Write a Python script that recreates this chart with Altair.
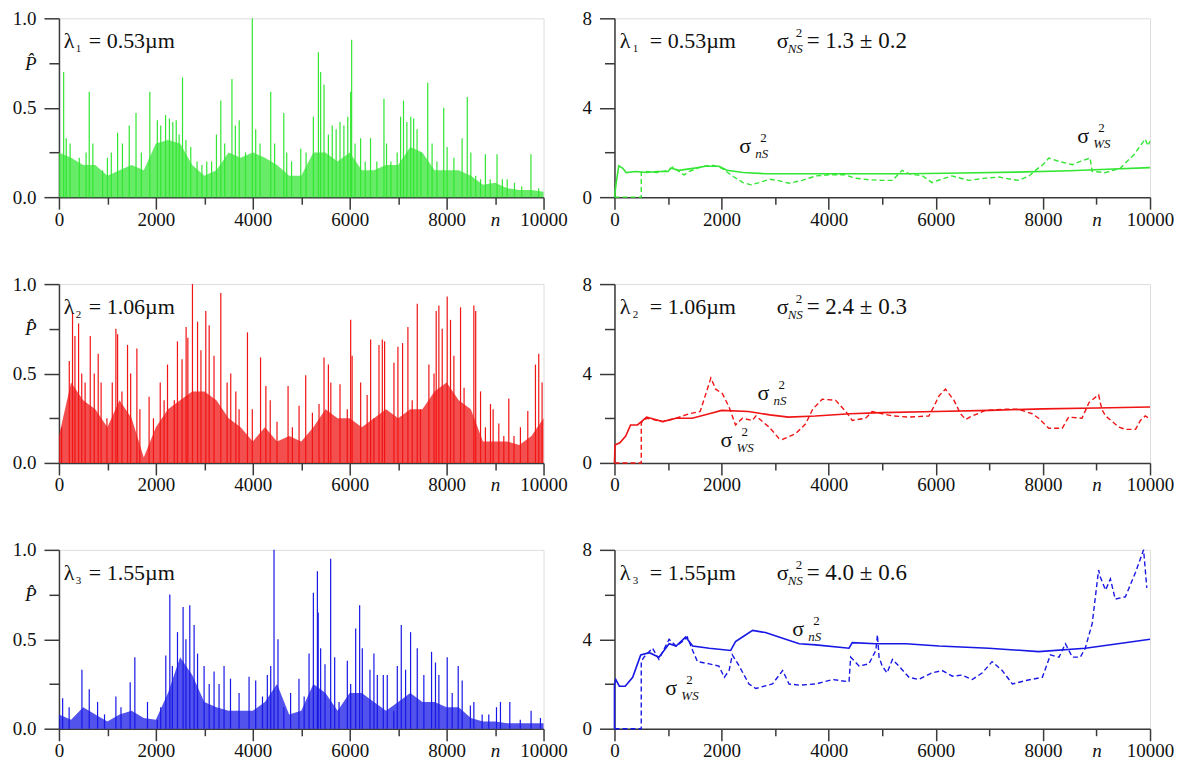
import altair as alt
import pandas as pd

FONT = "Liberation Serif"

# ---------------- data ----------------
N_ENV = list(range(0, 10001, 250))
env_green = [0.25, 0.22, 0.18, 0.18, 0.12, 0.15, 0.18, 0.15, 0.30, 0.32, 0.30, 0.18, 0.12, 0.15,
             0.25, 0.22, 0.25, 0.22, 0.18, 0.12, 0.12, 0.25, 0.25, 0.20, 0.25, 0.15, 0.15, 0.18,
             0.18, 0.28, 0.25, 0.15, 0.15, 0.15, 0.12, 0.07, 0.08, 0.05, 0.04, 0.04, 0.03]
env_red = [0.15, 0.45, 0.35, 0.30, 0.20, 0.35, 0.25, 0.03, 0.20, 0.30, 0.35, 0.40, 0.40, 0.35,
           0.25, 0.20, 0.12, 0.20, 0.12, 0.15, 0.12, 0.20, 0.30, 0.25, 0.25, 0.20, 0.25, 0.30,
           0.25, 0.30, 0.30, 0.40, 0.45, 0.35, 0.30, 0.12, 0.12, 0.12, 0.10, 0.15, 0.25]
env_blue = [0.08, 0.05, 0.12, 0.08, 0.04, 0.08, 0.10, 0.06, 0.05, 0.20, 0.40, 0.30, 0.15, 0.12,
            0.10, 0.10, 0.10, 0.15, 0.25, 0.08, 0.10, 0.25, 0.20, 0.10, 0.20, 0.20, 0.15, 0.10,
            0.15, 0.20, 0.15, 0.15, 0.12, 0.12, 0.06, 0.04, 0.04, 0.03, 0.03, 0.03, 0.03]

spikes_green = [(97, 0.70), (150, 0.33), (230, 0.30), (420, 0.22), (560, 0.25), (625, 0.59), (700, 0.30),
                (900, 0.15), (1000, 0.22), (1080, 0.25), (1210, 0.36), (1310, 0.30), (1450, 0.40),
                (1590, 0.47), (1700, 0.25), (1875, 0.59), (2030, 0.43), (2100, 0.40), (2200, 0.46),
                (2280, 0.44), (2350, 0.42), (2420, 0.43), (2480, 0.35), (2550, 0.67), (2620, 0.32),
                (2720, 0.28), (2850, 0.20), (2950, 0.18), (3050, 0.20), (3150, 0.20), (3250, 0.35),
                (3340, 0.54), (3420, 0.30), (3570, 0.66), (3640, 0.40), (3720, 0.43), (3850, 0.25),
                (3990, 1.0), (4060, 0.38), (4150, 0.30), (4370, 0.59), (4450, 0.30), (4640, 0.47),
                (4700, 0.25), (4800, 0.20), (4990, 0.27), (5100, 0.25), (5250, 0.45), (5354, 0.81),
                (5400, 0.70), (5470, 0.63), (5560, 0.35), (5640, 0.40), (5720, 0.38), (5800, 0.42),
                (5880, 0.40), (5960, 0.45), (6020, 0.59), (6040, 0.88), (6110, 0.30), (6225, 0.33),
                (6320, 0.20), (6430, 0.33), (6560, 0.20), (6707, 0.55), (6760, 0.30), (6850, 0.20),
                (6980, 0.25), (7050, 0.45), (7110, 0.54), (7180, 0.42), (7260, 0.45), (7320, 0.44),
                (7390, 0.38), (7470, 0.25), (7610, 0.64), (7700, 0.30), (7800, 0.20), (7940, 0.50),
                (8010, 0.28), (8150, 0.22), (8320, 0.33), (8426, 0.56), (8500, 0.25), (8600, 0.12),
                (8700, 0.10), (8800, 0.24), (8900, 0.10), (9040, 0.24), (9150, 0.10), (9250, 0.10),
                (9400, 0.08), (9550, 0.06), (9740, 0.24), (9900, 0.05)]
spikes_red = [(55, 0.20), (213, 0.57), (280, 0.84), (330, 0.71), (405, 0.78), (470, 0.50), (540, 0.45),
              (646, 0.71), (728, 0.50), (810, 0.61), (870, 0.45), (990, 0.25), (1100, 0.45), (1175, 0.75),
              (1210, 0.72), (1300, 0.40), (1415, 0.66), (1480, 0.50), (1608, 0.64), (1670, 0.30),
              (1860, 0.37), (1950, 0.25), (2090, 0.45), (2170, 0.35), (2240, 0.55), (2380, 0.35),
              (2445, 0.68), (2540, 0.58), (2624, 0.76), (2660, 0.70), (2755, 1.0), (2860, 0.79),
              (2930, 0.63), (3030, 0.85), (3100, 0.77), (3200, 0.60), (3340, 0.95), (3470, 0.45),
              (3545, 0.50), (3650, 0.40), (3717, 0.30), (3890, 0.73), (3990, 0.30), (4160, 0.59),
              (4270, 0.43), (4360, 0.35), (4500, 0.23), (4728, 0.43), (4817, 0.20), (4955, 0.32),
              (5092, 0.49), (5230, 0.28), (5367, 0.33), (5470, 0.59), (5560, 0.55), (5610, 0.45),
              (5800, 0.44), (5950, 0.30), (6020, 0.80), (6050, 0.60), (6226, 0.45), (6360, 0.38),
              (6432, 0.69), (6500, 0.25), (6604, 0.66), (6673, 0.69), (6720, 0.68), (6913, 0.56),
              (6995, 0.65), (7091, 0.67), (7201, 0.76), (7290, 0.35), (7394, 0.89), (7460, 0.30),
              (7634, 0.55), (7740, 0.50), (7785, 0.85), (7840, 0.88), (7909, 0.75), (8012, 0.93),
              (8080, 0.80), (8150, 0.60), (8287, 0.87), (8360, 0.42), (8562, 0.88), (8600, 0.85),
              (8700, 0.40), (8800, 0.20), (8905, 0.33), (8960, 0.30), (9077, 0.22), (9180, 0.15),
              (9283, 0.36), (9390, 0.15), (9523, 0.20), (9675, 0.29), (9833, 0.55), (9901, 0.61),
              (9970, 0.45)]
spikes_blue = [(76, 0.17), (210, 0.12), (474, 0.33), (625, 0.22), (797, 0.15), (940, 0.08), (1175, 0.18),
               (1280, 0.12), (1470, 0.26), (1566, 0.40), (1827, 0.15), (2030, 0.05), (2100, 0.12),
               (2205, 0.41), (2288, 0.75), (2340, 0.35), (2446, 0.54), (2562, 0.68), (2620, 0.50),
               (2700, 0.69), (2789, 0.58), (2860, 0.42), (2995, 0.35), (3100, 0.25), (3201, 0.32),
               (3304, 0.25), (3407, 0.35), (3540, 0.28), (3717, 0.20), (3923, 0.29), (4060, 0.27),
               (4200, 0.18), (4300, 0.30), (4370, 0.35), (4438, 1.0), (4520, 0.50), (4640, 0.12),
               (4780, 0.20), (4953, 0.28), (5060, 0.18), (5161, 0.42), (5250, 0.76), (5333, 0.88),
               (5350, 0.65), (5400, 0.45), (5490, 0.36), (5607, 0.95), (5690, 0.40), (5780, 0.15),
               (5951, 0.38), (6020, 0.25), (6123, 0.56), (6205, 0.69), (6260, 0.45), (6418, 0.33),
               (6500, 0.42), (6570, 0.30), (6693, 0.30), (6775, 0.30), (6910, 0.10), (6982, 0.35),
               (7064, 0.58), (7153, 0.33), (7256, 0.54), (7394, 0.45), (7530, 0.30), (7689, 0.43),
               (7770, 0.37), (7840, 0.30), (8012, 0.40), (8115, 0.20), (8239, 0.35), (8321, 0.27),
               (8490, 0.13), (8562, 0.15), (8733, 0.08), (8870, 0.08), (9029, 0.12), (9111, 0.15),
               (9304, 0.15), (9520, 0.05), (9743, 0.10), (9936, 0.06)]

# sigma^2_nS (solid) and sigma^2_WS (dashed)
nS_green = [(0, 0), (30, 0.6), (80, 1.4), (150, 1.3), (220, 1.1), (400, 1.15), (600, 1.1), (800, 1.15),
            (1000, 1.15), (1050, 1.3), (1200, 1.2), (1500, 1.3), (1700, 1.38), (1950, 1.38), (2100, 1.2),
            (2400, 1.1), (2800, 1.05), (3500, 1.05), (4500, 1.05), (5500, 1.05), (6500, 1.08),
            (7500, 1.12), (8500, 1.18), (9200, 1.25), (10000, 1.32)]
WS_green = [(0, 0), (500, 0), (500, 1.1), (600, 1.15), (800, 1.1), (1000, 1.2), (1100, 1.35), (1200, 1.15),
            (1300, 1.0), (1400, 1.15), (1550, 1.3), (1700, 1.4), (1850, 1.42), (2000, 1.3), (2200, 0.95),
            (2400, 0.65), (2550, 0.55), (2700, 0.65), (2900, 0.8), (3050, 0.75), (3260, 0.62),
            (3500, 0.75), (3760, 0.95), (4000, 1.0), (4300, 1.0), (4500, 0.85), (4750, 0.78),
            (5000, 0.75), (5190, 0.75), (5370, 1.2), (5500, 1.05), (5750, 0.95), (5930, 0.65),
            (6100, 0.8), (6300, 0.95), (6620, 0.75), (6930, 0.85), (7180, 0.9), (7400, 0.8),
            (7550, 0.75), (7740, 0.95), (7860, 1.2), (8000, 1.45), (8110, 1.75), (8300, 1.6),
            (8550, 1.45), (8700, 1.6), (8880, 1.75), (8920, 1.15), (9170, 1.1), (9450, 1.3),
            (9570, 1.6), (9700, 1.9), (9790, 2.2), (9910, 2.6), (9960, 2.3), (10000, 2.5)]
nS_red = [(0, 0), (10, 0.8), (100, 0.9), (210, 1.2), (300, 1.7), (430, 1.7), (600, 2.05), (900, 1.85),
          (1150, 2.0), (1450, 2.0), (1770, 2.2), (2000, 2.35), (2500, 2.3), (2900, 2.15), (3250, 2.05),
          (3750, 2.1), (4400, 2.2), (5000, 2.25), (6000, 2.3), (7000, 2.35), (8000, 2.42),
          (9000, 2.46), (10000, 2.5)]
WS_red = [(0, 0), (500, 0), (500, 1.8), (600, 2.0), (900, 1.85), (1150, 2.0), (1400, 2.2), (1600, 2.3),
          (1800, 3.8), (1890, 3.3), (2015, 3.1), (2140, 2.5), (2260, 1.7), (2390, 2.0), (2575, 1.9),
          (2640, 2.1), (2890, 1.6), (3070, 1.1), (3135, 1.05), (3380, 1.3), (3570, 1.75), (3700, 2.4),
          (3880, 2.85), (4130, 2.8), (4320, 2.3), (4440, 1.9), (4690, 2.0), (4810, 2.3), (5000, 2.2),
          (5200, 2.1), (5500, 2.05), (5870, 2.1), (5960, 2.5), (6060, 3.0), (6180, 3.3), (6340, 2.8),
          (6460, 2.2), (6560, 1.95), (6680, 2.1), (6930, 2.35), (7300, 2.4), (7550, 2.4), (7800, 2.2),
          (7920, 2.0), (8110, 1.55), (8360, 1.55), (8480, 2.05), (8730, 2.0), (8860, 2.7),
          (9040, 3.05), (9100, 2.4), (9170, 2.1), (9420, 1.6), (9540, 1.5), (9730, 1.5), (9820, 1.9),
          (9910, 2.1), (9980, 2.0)]
nS_blue = [(0, 0), (0, 2.0), (25, 2.2), (90, 1.9), (200, 1.9), (340, 2.3), (430, 2.9), (490, 3.3),
           (650, 3.4), (830, 3.2), (1020, 3.8), (1150, 3.7), (1330, 4.1), (1460, 3.7), (1770, 3.6),
           (2170, 3.5), (2260, 3.9), (2390, 4.1), (2580, 4.4), (2820, 4.3), (3140, 4.05), (3450, 3.8),
           (3760, 3.75), (4380, 3.6), (4440, 3.85), (4880, 3.8), (5440, 3.8), (6060, 3.7), (6990, 3.6),
           (7920, 3.45), (8790, 3.6), (9400, 3.8), (10000, 4.0)]
WS_blue = [(0, 0), (500, 0), (500, 3.0), (550, 3.2), (710, 3.6), (830, 3.1), (1020, 4.0), (1150, 3.7),
           (1270, 3.9), (1360, 4.1), (1460, 3.5), (1550, 3.0), (1770, 2.9), (1950, 2.8), (2050, 2.3),
           (2140, 2.6), (2200, 3.3), (2330, 2.8), (2510, 2.0), (2640, 1.8), (2950, 2.0), (3140, 2.6),
           (3260, 2.0), (3450, 1.95), (3760, 2.0), (4070, 2.2), (4380, 2.1), (4410, 3.2), (4570, 2.8),
           (4750, 2.9), (4880, 3.5), (4910, 4.2), (4940, 3.2), (5000, 2.8), (5090, 2.5), (5190, 3.1),
           (5310, 2.8), (5500, 2.3), (5680, 2.2), (5930, 2.5), (6120, 2.6), (6310, 2.35), (6490, 2.4),
           (6680, 2.2), (6870, 2.5), (7050, 3.0), (7240, 2.6), (7430, 2.0), (7670, 2.15), (7990, 2.3),
           (8140, 3.3), (8300, 3.2), (8420, 3.8), (8550, 3.2), (8700, 3.2), (8790, 3.6), (8920, 4.7),
           (9040, 7.1), (9070, 6.8), (9170, 6.2), (9260, 6.7), (9350, 5.8), (9540, 5.9), (9730, 7.0),
           (9790, 7.4), (9880, 8.0), (9940, 6.3)]

colors = ["#33e633", "#f01414", "#1818e6"]
lam_sub = ["1", "2", "3"]
lam_val = ["= 0.53µm", "= 1.06µm", "= 1.55µm"]
ns_val = ["= 1.3 ± 0.2", "= 2.4 ± 0.3", "= 4.0 ± 0.6"]
# positions (n, value) of the sigma labels: (nS label, WS label)
sig_pos = [((2330, 1.97), (8640, 2.41)),
           ((2670, 2.82), (1980, 0.72)),
           ((3320, 4.13), (950, 1.51))]

# ---------------- helpers ----------------
AX = dict(grid=False, domainColor="#3a3a3a", domainWidth=1.5, tickColor="#3a3a3a", tickWidth=1.5,
          labelColor="#111111", labelFont=FONT, labelFontSize=19, labelFlush=False,
          labelOverlap=False, title=None)


def x_major():
    return alt.Axis(orient="bottom", values=[0, 2000, 4000, 6000, 8000, 10000], format="d",
                    tickSize=12, labelPadding=1, **AX)


def x_minor():
    return alt.Axis(orient="bottom", values=[1000, 3000, 5000, 7000, 9000], tickSize=7,
                    labelPadding=6, labelExpr="datum.value == 9000 ? 'n' : ''",
                    labelFontStyle="italic", domain=False, **AX)


def xe(axis, field="n"):
    return alt.X(f"{field}:Q", scale=alt.Scale(domain=[0, 10000], nice=False, zero=False), axis=axis)


def ye(axis, top, field="v"):
    return alt.Y(f"{field}:Q", scale=alt.Scale(domain=[0, top], nice=False, zero=False), axis=axis)


def txt(n, v, s, top, dx=0, dy=0, size=22, style="normal"):
    return alt.Chart(pd.DataFrame({"n": [n], "v": [v]})).mark_text(
        text=s, dx=dx, dy=dy, align="left", baseline="alphabetic", font=FONT,
        fontSize=size, fontStyle=style, color="#111111").encode(
        x=xe(None), y=ye(None, top))


def sigma(n, v, sub, top):
    return [txt(n, v, "σ", top),
            txt(n, v, "2", top, dx=21, dy=-11, size=13),
            txt(n, v, sub, top, dx=16, dy=5, size=13, style="italic")]


def left_panel(i, env, spikes):
    c = colors[i]
    df_env = pd.DataFrame({"n": N_ENV, "v": env})
    df_sp = pd.DataFrame(spikes, columns=["n", "v"])
    df_sp["z"] = 0.0
    ymaj = alt.Axis(orient="left", values=[0, 0.5, 1.0], format=".1f", tickSize=15, labelPadding=8, **AX)
    ymin = alt.Axis(orient="left", values=[0.25, 0.75], tickSize=10, labelPadding=13,
                    labelExpr="datum.value == 0.75 ? 'P\u0302' : ''", labelFontStyle="italic",
                    domain=False, **AX)
    area = alt.Chart(df_env).mark_area(color=c, opacity=0.75).encode(x=xe(x_major()), y=ye(ymaj, 1))
    rules = alt.Chart(df_sp).mark_rule(color=c, strokeWidth=1.2).encode(
        x=xe(x_minor()), y=ye(ymin, 1), y2="z:Q")
    texts = [txt(100, 0.832, "λ", 1),
             txt(100, 0.832, lam_sub[i], 1, dx=12, dy=4, size=11),
             txt(100, 0.832, lam_val[i], 1, dx=25)]
    return alt.layer(area, rules, *texts).resolve_axis(x="independent", y="independent").properties(
        width=485, height=179)


def right_panel(i, solid, dashed):
    c = colors[i]
    df_s = pd.DataFrame(solid, columns=["n", "v"])
    df_s["i"] = range(len(df_s))
    df_d = pd.DataFrame(dashed, columns=["n", "v"])
    df_d["i"] = range(len(df_d))
    ymaj = alt.Axis(orient="left", values=[0, 4, 8], format="d", tickSize=15, labelPadding=8, **AX)
    ymin = alt.Axis(orient="left", values=[2, 6], tickSize=10, labels=False, domain=False, **AX)
    ls = alt.Chart(df_s).mark_line(color=c, strokeWidth=1.6).encode(
        x=xe(x_major()), y=ye(ymaj, 8), order="i:Q")
    ld = alt.Chart(df_d).mark_line(color=c, strokeWidth=1.4, strokeDash=[5, 3]).encode(
        x=xe(x_minor()), y=ye(ymin, 8), order="i:Q")
    texts = [txt(100, 6.66, "λ", 8),
             txt(100, 6.66, lam_sub[i], 8, dx=13, dy=4, size=11),
             txt(100, 6.66, lam_val[i], 8, dx=30),
             txt(100, 6.66, "σ", 8, dx=157),
             txt(100, 6.66, "2", 8, dx=176, dy=-11, size=13),
             txt(100, 6.66, "NS", 8, dx=168, dy=5, size=13, style="italic"),
             txt(100, 6.66, ns_val[i], 8, dx=187, size=23)]
    (pn, pw) = sig_pos[i]
    texts += sigma(pn[0], pn[1], "nS", 8) + sigma(pw[0], pw[1], "WS", 8)
    return alt.layer(ls, ld, *texts).resolve_axis(x="independent", y="independent").properties(
        width=536, height=179)


rows = []
for i, (env, sp, s, d) in enumerate([(env_green, spikes_green, nS_green, WS_green),
                                      (env_red, spikes_red, nS_red, WS_red),
                                      (env_blue, spikes_blue, nS_blue, WS_blue)]):
    rows.append(alt.hconcat(left_panel(i, env, sp), right_panel(i, s, d), spacing=13))

chart = alt.vconcat(*rows, spacing=44, padding={"left": 3, "top": 0, "right": 0, "bottom": 0}).configure_view(
    stroke="#7a7a7a", strokeWidth=1).configure(background="white")

chart.save("out.html", embed_options={"renderer": "svg", "actions": False})
